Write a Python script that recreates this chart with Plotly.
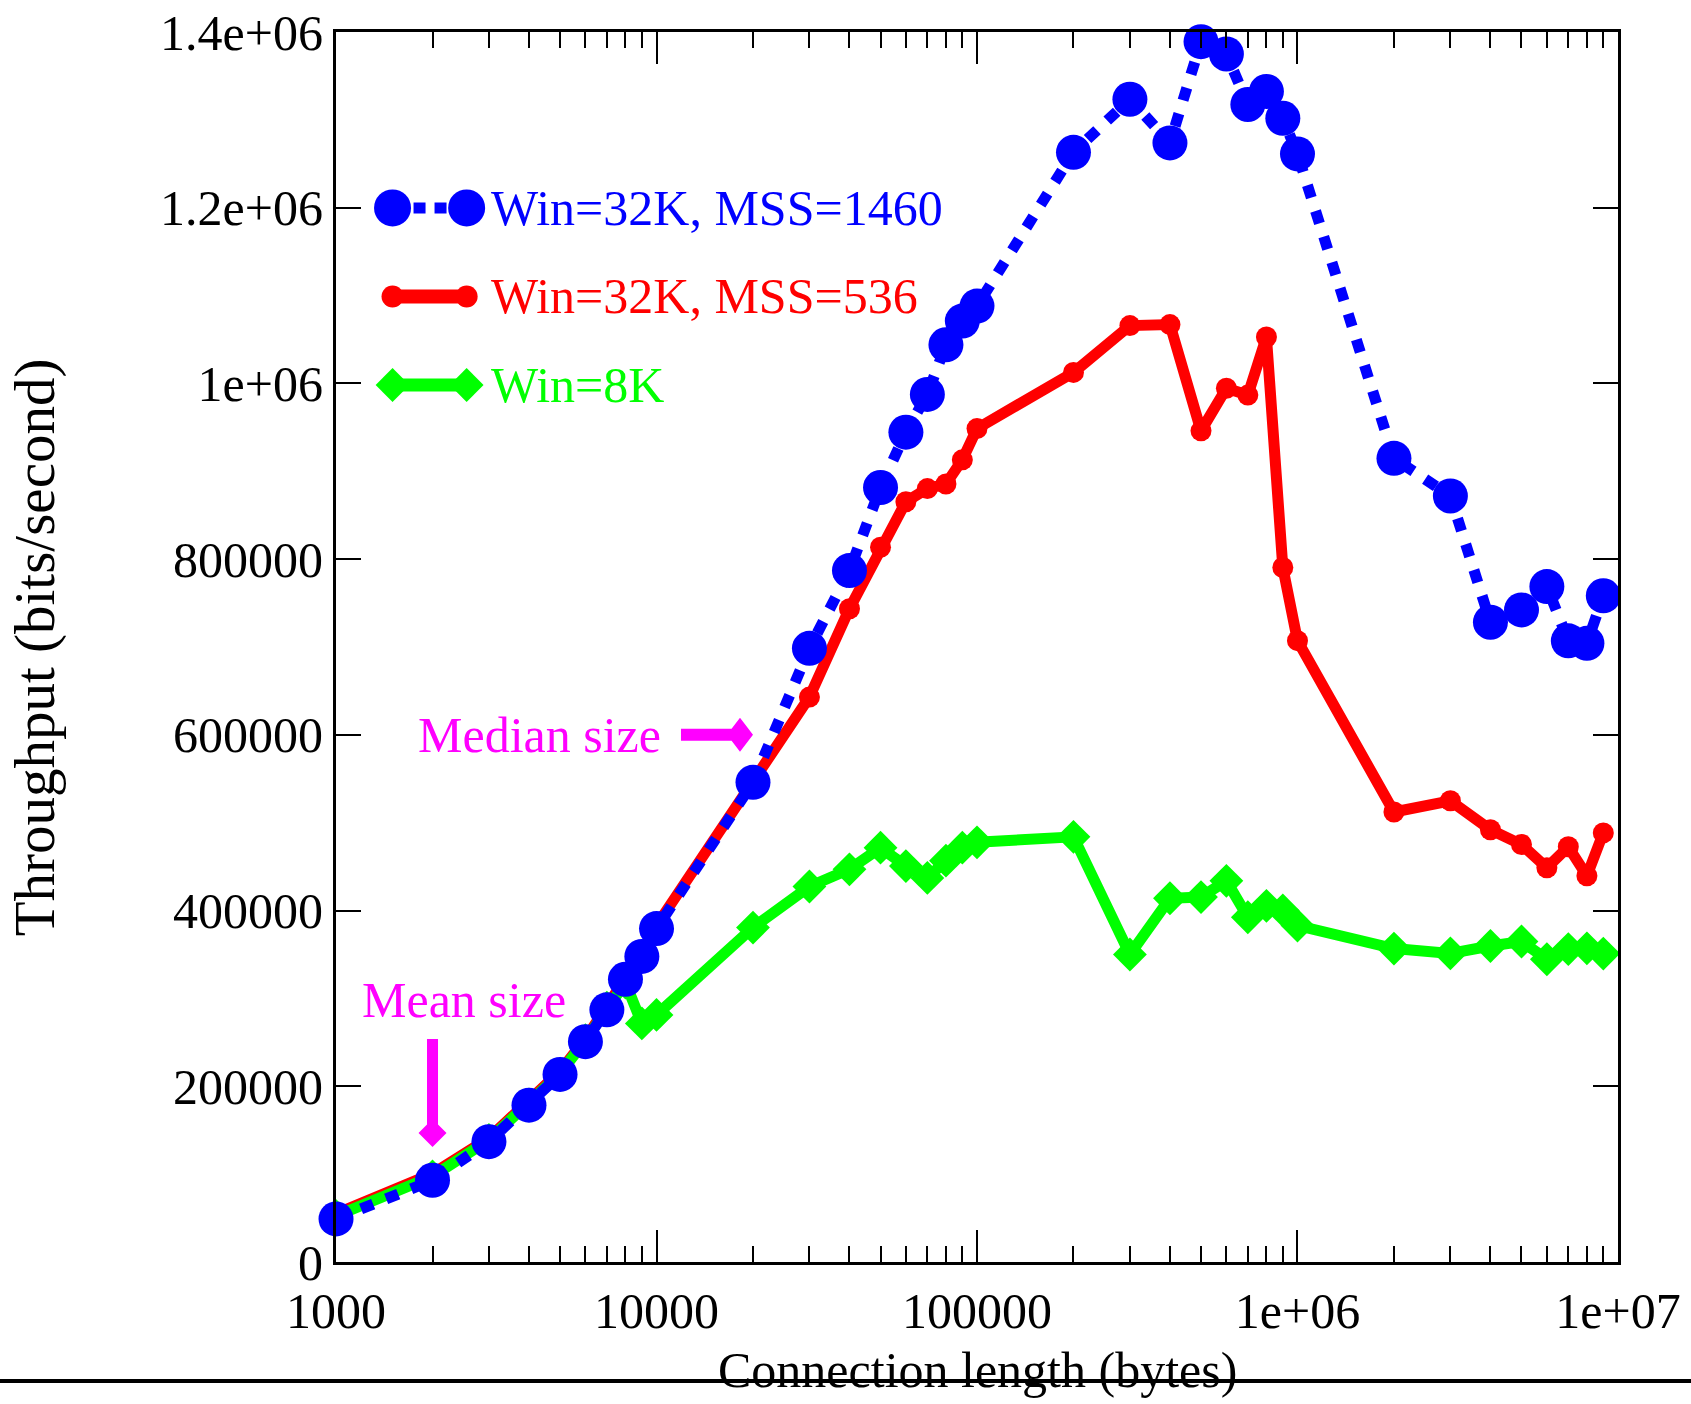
import math
import plotly.graph_objects as go

# ---------------- data ----------------
conn_len = [1000, 2000, 3000, 4000, 5000, 6000, 7000, 8000, 9000,
            10000, 20000, 30000, 40000, 50000, 60000, 70000, 80000, 90000,
            100000, 200000, 300000, 400000, 500000, 600000, 700000, 800000, 900000,
            1000000, 2000000, 3000000, 4000000, 5000000, 6000000, 7000000, 8000000, 9000000]

win32k_mss1460 = [49000, 93000, 137000, 178500, 213500, 250800, 287000, 321800, 347800,
                  379500, 546000, 698500, 787000, 881500, 944500, 987500, 1044000, 1071000,
                  1088000, 1263000, 1323500, 1273800, 1389000, 1375000, 1317500, 1332400, 1301800,
                  1261200, 914700, 871900, 728200, 742200, 768800, 707000, 704200, 758300]

win32k_mss536 = [55000, 100500, 141000, 181500, 217000, 254000, 290000, 324500, 351500,
                 383000, 548000, 643000, 743500, 813500, 865300, 880300, 885500, 913000,
                 948600, 1012500, 1065800, 1067000, 946000, 994500, 986700, 1052800, 790500,
                 707200, 512200, 525000, 492000, 475200, 448700, 472600, 439500, 488400]

win8k = [52500, 97500, 139000, 179500, 214500, 252500, 289500, 318000, 271500,
         281200, 380700, 427400, 447000, 471600, 450700, 437200, 456800, 471600,
         477700, 483900, 350000, 414000, 415400, 433900, 392400, 405400, 400200,
         383000, 356800, 351300, 359700, 364800, 344600, 356200, 357000, 351100]

series_names = ["Win=32K, MSS=1460", "Win=32K, MSS=536", "Win=8K"]

x_tick_vals = [1000, 10000, 100000, 1000000, 10000000]
x_tick_text = ["1000", "10000", "100000", "1e+06", "1e+07"]
y_tick_vals = [0, 200000, 400000, 600000, 800000, 1000000, 1200000, 1400000]
y_tick_text = ["0", "200000", "400000", "600000", "800000", "1e+06", "1.2e+06", "1.4e+06"]

MEDIAN_SIZE = 20000
MEDIAN_ARROW_Y = 600000
MEAN_SIZE = 2000
MEAN_ARROW_TIP_Y = 131000

# ---------------- styles ----------------
BLUE = "#0000FF"
RED = "#FF0000"
GREEN = "#00FF00"
MAGENTA = "#FF00FF"
FONT = "Liberation Serif"

blue_style = dict(mode="lines+markers",
                  line=dict(color=BLUE, width=11, dash="13px,14px"),
                  marker=dict(symbol="circle", size=35, color=BLUE))
red_style = dict(mode="lines+markers",
                 line=dict(color=RED, width=11),
                 marker=dict(symbol="circle", size=21, color=RED))
green_style = dict(mode="lines+markers",
                   line=dict(color=GREEN, width=11),
                   marker=dict(symbol="diamond", size=26, color=GREEN))

fig = go.Figure()
fig.add_trace(go.Scatter(x=conn_len, y=win32k_mss536, name=series_names[1],
                         cliponaxis=False, hoverinfo="skip", **red_style))
fig.add_trace(go.Scatter(x=conn_len, y=win8k, name=series_names[2],
                         cliponaxis=False, hoverinfo="skip", **green_style))
fig.add_trace(go.Scatter(x=conn_len, y=win32k_mss1460, name=series_names[0],
                         cliponaxis=False, hoverinfo="skip", **blue_style))

# ---------------- custom legend (overlay axes spanning the plot area) ----------------
legend_rows = [0.857, 0.785, 0.713]
legend_x = [0.0441, 0.1019]
legend_text_x = 0.119
legend_styles = [
    dict(mode="lines+markers", line=dict(color=BLUE, width=11, dash="12px,9px"),
         marker=dict(symbol="circle", size=37, color=BLUE)),
    dict(mode="lines+markers", line=dict(color=RED, width=14),
         marker=dict(symbol="circle", size=22, color=RED)),
    dict(mode="lines+markers", line=dict(color=GREEN, width=13),
         marker=dict(symbol="diamond", size=26, color=GREEN)),
]
for row, st, name, col in zip(legend_rows, legend_styles, series_names, [BLUE, RED, GREEN]):
    fig.add_trace(go.Scatter(x=legend_x, y=[row, row], xaxis="x2", yaxis="y2",
                             showlegend=False, hoverinfo="skip", cliponaxis=False, **st))
    fig.add_annotation(x=legend_text_x, y=row, xref="paper", yref="paper",
                       text=name, showarrow=False, xanchor="left", yanchor="middle",
                       font=dict(family=FONT, size=50, color=col))

# ---------------- axes ----------------
minor_vals = [m * 10 ** e for e in range(3, 7) for m in range(2, 10)]

fig.update_layout(
    width=1691, height=1404,
    margin=dict(l=336, r=73, t=32, b=142, autoexpand=False),
    plot_bgcolor="white", paper_bgcolor="white",
    showlegend=False,
    font=dict(family=FONT, size=50, color="black"),
    xaxis=dict(type="log", range=[2.9999, 7.0001], showgrid=False, zeroline=False,
               automargin=False,
               showline=True, linecolor="black", linewidth=3, mirror="ticks",
               ticks="inside", ticklen=32, tickwidth=2, tickcolor="black",
               tickvals=x_tick_vals, ticktext=x_tick_text,
               tickfont=dict(family=FONT, size=50, color="black"),
               ticklabelstandoff=3, ticklabeloverflow="allow",
               minor=dict(tickvals=minor_vals, ticks="inside", ticklen=16,
                          tickwidth=2, tickcolor="black", showgrid=False)),
    yaxis=dict(range=[0, 1400000], showgrid=False, zeroline=False,
               automargin=False,
               showline=True, linecolor="black", linewidth=3, mirror="ticks",
               ticks="inside", ticklen=25, tickwidth=2, tickcolor="black",
               tickvals=y_tick_vals, ticktext=y_tick_text,
               tickfont=dict(family=FONT, size=50, color="black"),
               ticklabelstandoff=0, ticklabeloverflow="allow"),
    xaxis2=dict(overlaying="x", range=[0, 1], visible=False, anchor="y2", automargin=False),
    yaxis2=dict(overlaying="y", range=[0, 1], visible=False, anchor="x2", automargin=False),
)

# axis titles
fig.add_annotation(x=0.5, y=-0.0878, xref="paper", yref="paper",
                   text="Connection length (bytes)", showarrow=False,
                   xanchor="center", yanchor="middle",
                   font=dict(family=FONT, size=50, color="black"))
fig.add_annotation(x=-0.2345, y=0.5, xref="paper", yref="paper",
                   text="Throughput (bits/second)", showarrow=False, textangle=-90,
                   xanchor="center", yanchor="middle", borderpad=0,
                   font=dict(family=FONT, size=57, color="black"))

# horizontal rule under the chart
fig.add_shape(type="line", xref="paper", yref="paper", x0=-0.27, x1=1.06,
              y0=-0.0967, y1=-0.0967, line=dict(color="black", width=4))

# ---------------- median / mean arrows (shaft + diamond head, pixel offsets) ----------------
fig.add_shape(type="path", xref="x", yref="y", xsizemode="pixel", ysizemode="pixel",
              xanchor=MEDIAN_SIZE, yanchor=MEDIAN_ARROW_Y,
              path="M-72,-6 L-21.4,-6 L-13,-17 L0,0 L-13,17 L-21.4,6 L-72,6 Z",
              fillcolor=MAGENTA, line=dict(color=MAGENTA, width=0))
fig.add_annotation(x=math.log10(MEDIAN_SIZE), y=MEDIAN_ARROW_Y, xref="x", yref="y",
                   text="Median size", showarrow=False, xanchor="right", yanchor="middle",
                   xshift=-90, font=dict(family=FONT, size=50, color=MAGENTA))

fig.add_shape(type="path", xref="x", yref="y", xsizemode="pixel", ysizemode="pixel",
              xanchor=MEAN_SIZE, yanchor=MEAN_ARROW_TIP_Y,
              path="M-5.5,108 L-5.5,22.5 L-14,14 L0,0 L14,14 L5.5,22.5 L5.5,108 Z",
              fillcolor=MAGENTA, line=dict(color=MAGENTA, width=0))
fig.add_annotation(x=math.log10(MEAN_SIZE), y=MEAN_ARROW_TIP_Y, xref="x", yref="y",
                   text="Mean size", showarrow=False, xanchor="center", yanchor="middle",
                   xshift=31, yshift=147, font=dict(family=FONT, size=50, color=MAGENTA))

# remove the default page margin so the figure fills the window exactly
fig.write_html("out.html",
               config={"displayModeBar": False},
               post_script="document.body.style.margin='0';document.body.style.overflow='hidden';")
